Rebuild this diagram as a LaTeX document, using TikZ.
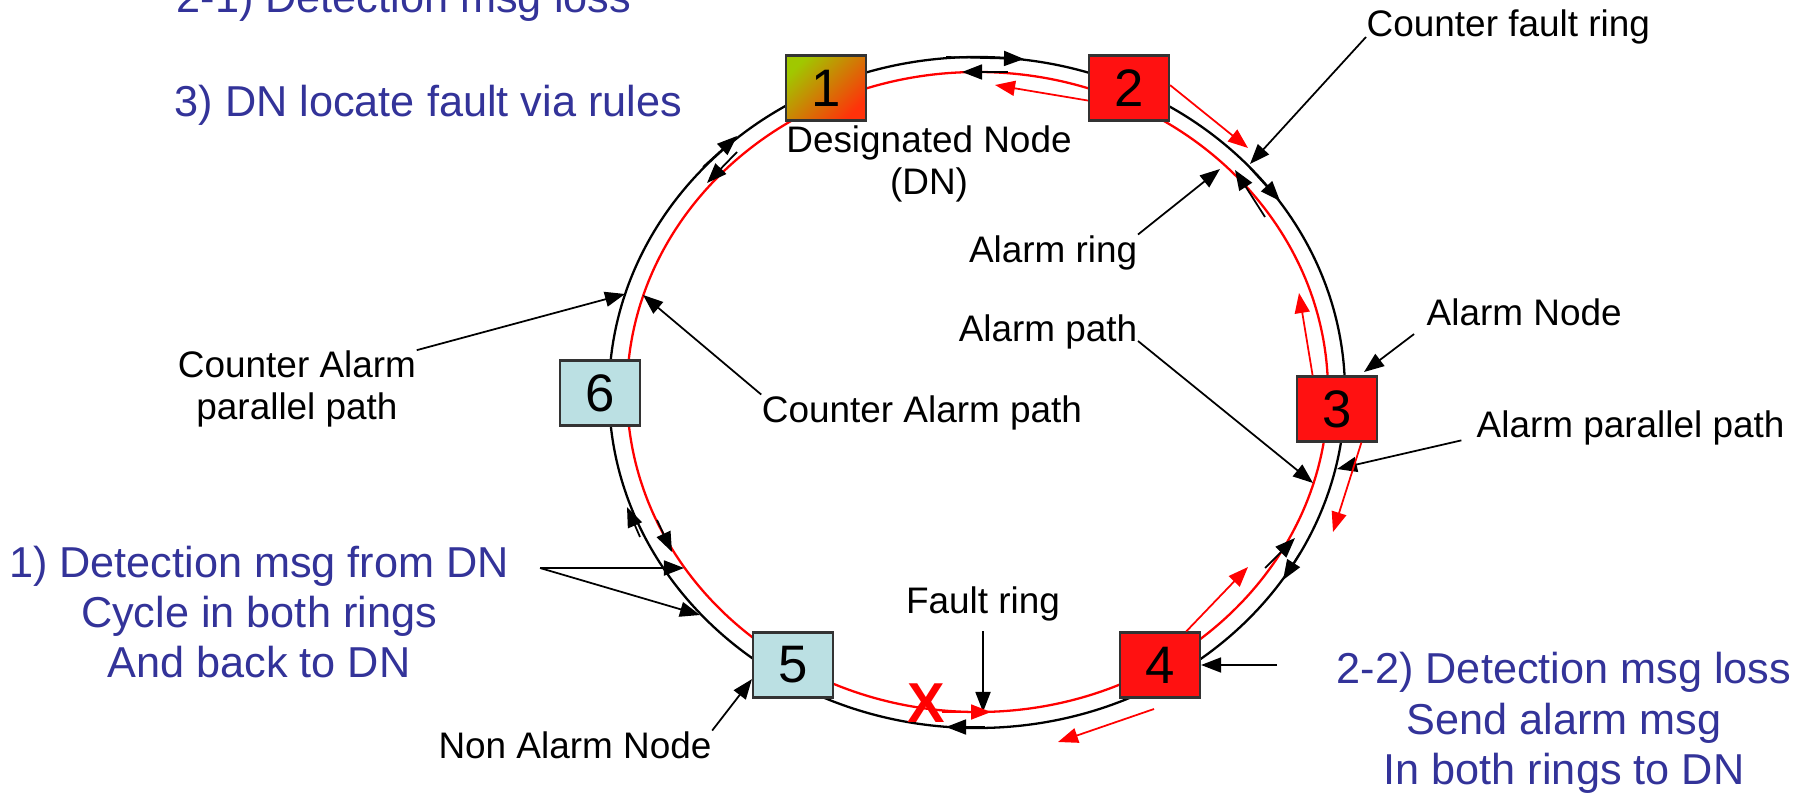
\documentclass[tikz,border=0pt]{standalone}
\usepackage{fontspec}
\setmainfont{Liberation Sans}
\usetikzlibrary{arrows.meta}

\definecolor{alarmred}{RGB}{255,17,17}
\definecolor{calmblue}{RGB}{187,224,227}
\definecolor{noteblue}{RGB}{51,51,153}
\definecolor{dngreen}{RGB}{160,200,0}
\definecolor{dnorange}{RGB}{210,130,10}
\definecolor{dnred}{RGB}{255,50,10}

\begin{document}
\begin{tikzpicture}[
  x=0.01cm, y=-0.01cm,
  box/.style={draw=black!80, line width=0.6pt, minimum width=0.8cm, minimum height=0.65cm, inner sep=0pt, font=\fontsize{15}{17}\selectfont},
  alarm/.style={box, fill=alarmred},
  calm/.style={box, fill=calmblue},
  lbl/.style={inner sep=0pt, align=center, font=\fontsize{10.5}{11.9}\selectfont},
  note/.style={inner sep=0pt, align=center, text=noteblue, font=\fontsize{12.3}{14.3}\selectfont},
  ring/.style={line width=0.65pt},
  arr/.style={-{Triangle[length=2mm,width=1.5mm]}, line width=0.5pt},
  redarr/.style={arr, red}
]
\useasboundingbox (0,0) rectangle (1800,794);

\draw[ring] (977,392.5) ellipse [x radius=368, y radius=335.5];
\draw[ring, red] (977.5,392) ellipse [x radius=350.5, y radius=320];

\node[box, top color=dngreen, middle color=dnorange, bottom color=dnred, shading angle=45] (n1) at (826,88) {1};
\node[alarm] (n2) at (1129,88) {2};
\node[alarm] (n3) at (1337,409) {3};
\node[alarm] (n4) at (1160,665) {4};
\node[calm] (n5) at (793,665) {5};
\node[calm] (n6) at (600,393) {6};

\node[note, anchor=base west] (s21) at (176,13) {2-1) Detection msg loss};
\node[note, anchor=base west] (s3) at (174,117) {3) DN locate fault via rules};
\node[note] (s1) at (259,612) {1) Detection msg from DN\\Cycle in both rings\\And back to DN};
\node[note] (s22) at (1564,723) {2-2) Detection msg loss\\Send alarm msg\\In both rings to DN};

\node[lbl, anchor=base west] (cfr) at (1366,37) {Counter fault ring};
\node[lbl] (dnl) at (929,164) {Designated Node\\(DN)};
\node[lbl, anchor=base east] (arl) at (1138,262) {Alarm ring};
\node[lbl, anchor=base east] (apl) at (1138,341) {Alarm path};
\node[lbl, anchor=base west] (anl) at (1426,325) {Alarm Node};
\node[lbl] (capl) at (297,389) {Counter Alarm\\parallel path};
\node[lbl, anchor=base] (cal) at (922,422) {Counter Alarm path};
\node[lbl, anchor=base west] (appl) at (1476,437) {Alarm parallel path};
\node[lbl, anchor=base] (frl) at (983,613) {Fault ring};
\node[lbl, anchor=base] (nal) at (575,758) {Non Alarm Node};
\node[inner sep=0pt, text=red, font=\bfseries\fontsize{16}{18}\selectfont] (cut) at (926,703) {X};

\coordinate (cfrtip) at (1250,164);
\coordinate (artip) at (1220,169);
\coordinate (aptip) at (1313,483);
\coordinate (antip) at (1364,372);
\coordinate (apptip) at (1337,469);
\coordinate (catip) at (643,295);
\coordinate (capptip) at (625,294);
\coordinate (s1src) at (540,568);
\coordinate (s1tipa) at (684,568);
\coordinate (s1tipb) at (700,615);
\coordinate (frtip) at (983,712);
\coordinate (n4src) at (1277,665);

\draw[arr] (cfr.base west) -- (cfrtip);
\draw[arr] (arl.north east) -- (artip);
\draw[arr] (apl.base east) -- (aptip);
\draw[arr, shorten <=1.5mm] (anl.base west) -- (antip);
\draw[arr, shorten <=1.5mm] (appl.base west) -- (apptip);
\draw[arr] (cal.north west) -- (catip);
\draw[arr] (capl.north east) -- (capptip);
\draw[arr] (s1src) -- (s1tipa);
\draw[arr] (s1src) -- (s1tipb);
\draw[arr, shorten <=1mm] (frl.south) -- (frtip);
\draw[arr] (nal.north east) -- (n5.199);
\draw[arr] (n4src) -- (n4.east);

\coordinate (bs1) at (946,57);   \coordinate (be1) at (1024,59);
\coordinate (bs2) at (1008,72);  \coordinate (be2) at (962,72);
\coordinate (bs3) at (703,167);  \coordinate (be3) at (737,136);
\coordinate (bs4) at (737,152);  \coordinate (be4) at (707,183);
\coordinate (bs5) at (640,537);  \coordinate (be5) at (627,507);
\coordinate (bs6) at (657,520);  \coordinate (be6) at (672,552);
\coordinate (bs7) at (1265,217); \coordinate (be7) at (1235,170);
\coordinate (bs8) at (1250,168); \coordinate (be8) at (1280,201);
\coordinate (bs9) at (1265,568); \coordinate (be9) at (1295,538);
\coordinate (bs10) at (1300,553); \coordinate (be10) at (1283,580);
\coordinate (bs11) at (985,727); \coordinate (be11) at (946,727);
\foreach \i in {1,...,11} \draw[arr] (bs\i) -- (be\i);

\coordinate (re1) at (995,85);
\coordinate (re2) at (1248,148);
\coordinate (re3) at (1299,293);
\coordinate (re4) at (1333,532);
\coordinate (re5) at (1248,567);
\coordinate (rs6) at (1154,709); \coordinate (re6) at (1058,742);
\coordinate (rs7) at (942,712);  \coordinate (re7) at (991,712);
\draw[redarr] (n2.197) -- (re1);
\draw[redarr] (n2.4) -- (re2);
\draw[redarr] (n3.126) -- (re3);
\draw[redarr] (n3.306) -- (re4);
\draw[redarr] (n4.52) -- (re5);
\draw[redarr] (rs6) -- (re6);
\draw[redarr] (rs7) -- (re7);
\end{tikzpicture}
\end{document}
